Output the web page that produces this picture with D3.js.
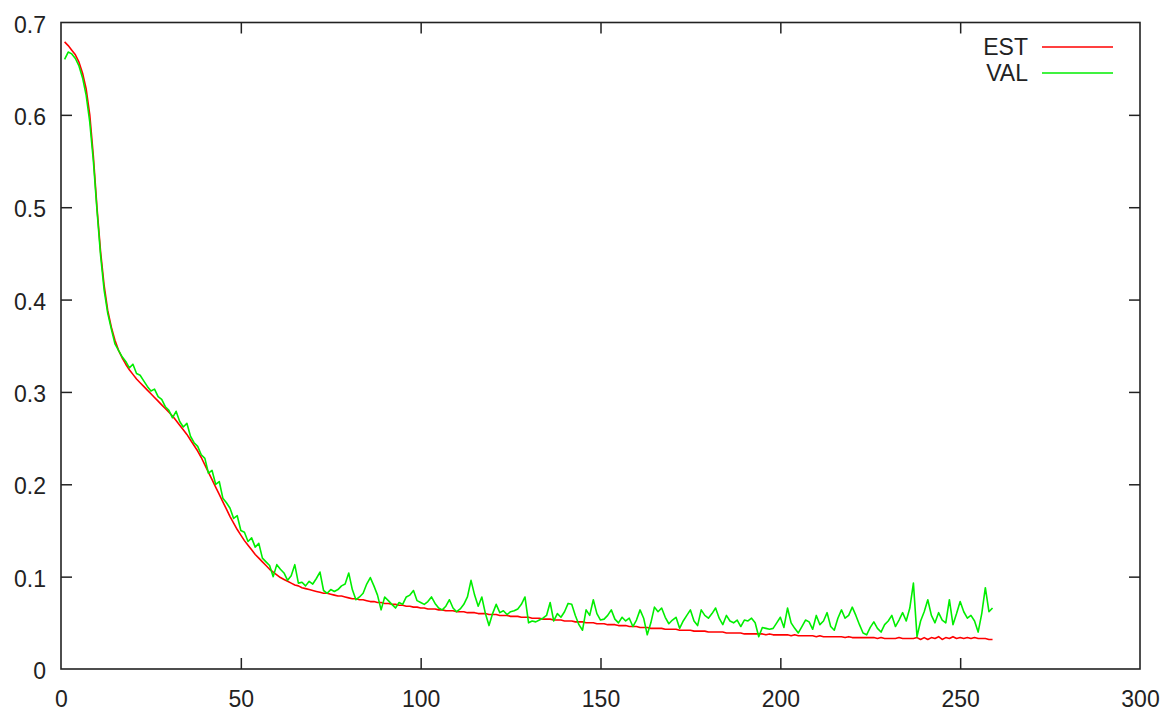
<!DOCTYPE html>
<html>
<head>
<meta charset="utf-8">
<script src="https://cdn.jsdelivr.net/npm/d3@7"></script>
<style>
  body { margin: 0; background: #fff; }
  text { font-family: "Liberation Sans", Arial, sans-serif; }
</style>
</head>
<body>
<div id="chart"></div>
<script>
// EST / VAL error per epoch, epochs start at 1
var est = [
  0.679,0.675,0.670,0.665,0.657,0.645,0.628,0.600,0.555,0.500,
  0.452,0.415,0.388,0.370,0.356,0.345,0.337,0.330,0.324,0.319,
  0.314,0.310,0.306,0.302,0.298,0.294,0.290,0.286,0.282,0.278,
  0.274,0.269,0.264,0.259,0.254,0.248,0.242,0.236,0.229,0.221,
  0.213,0.205,0.197,0.189,0.181,0.173,0.165,0.158,0.151,0.145,
  0.139,0.134,0.129,0.124,0.120,0.116,0.112,0.108,0.105,0.102,
  0.099,0.097,0.095,0.093,0.091,0.090,0.088,0.087,0.086,0.085,
  0.084,0.083,0.082,0.082,0.081,0.080,0.079,0.079,0.078,0.077,
  0.076,0.076,0.075,0.075,0.074,0.073,0.073,0.072,0.072,0.071,
  0.071,0.070,0.070,0.069,0.069,0.068,0.068,0.067,0.067,0.066,
  0.066,0.065,0.065,0.065,0.064,0.064,0.063,0.063,0.063,0.062,
  0.062,0.062,0.061,0.061,0.061,0.060,0.060,0.060,0.059,0.059,
  0.059,0.058,0.058,0.058,0.057,0.057,0.057,0.056,0.056,0.056,
  0.055,0.055,0.055,0.054,0.054,0.054,0.053,0.053,0.053,0.052,
  0.052,0.052,0.051,0.051,0.051,0.050,0.050,0.050,0.049,0.049,
  0.049,0.048,0.048,0.048,0.047,0.047,0.047,0.046,0.046,0.046,
  0.045,0.045,0.045,0.044,0.044,0.044,0.044,0.043,0.043,0.043,
  0.043,0.042,0.042,0.042,0.042,0.041,0.041,0.041,0.041,0.040,
  0.040,0.040,0.040,0.040,0.039,0.039,0.039,0.039,0.039,0.038,
  0.038,0.038,0.038,0.038,0.038,0.037,0.038,0.037,0.037,0.037,
  0.037,0.037,0.036,0.037,0.036,0.036,0.036,0.036,0.036,0.035,
  0.036,0.035,0.035,0.035,0.035,0.035,0.035,0.034,0.035,0.034,
  0.034,0.034,0.034,0.034,0.034,0.034,0.033,0.034,0.033,0.033,
  0.033,0.033,0.034,0.033,0.033,0.033,0.033,0.034,0.032,0.034,
  0.032,0.034,0.033,0.035,0.032,0.034,0.033,0.035,0.033,0.034,
  0.033,0.034,0.033,0.034,0.033,0.033,0.033,0.032,0.032
];
var val = [
  0.660,0.668,0.666,0.661,0.653,0.640,0.621,0.592,0.550,0.497,
  0.448,0.410,0.385,0.368,0.352,0.345,0.338,0.333,0.326,0.330,
  0.320,0.318,0.312,0.306,0.301,0.303,0.295,0.292,0.284,0.280,
  0.272,0.279,0.268,0.262,0.266,0.252,0.245,0.241,0.232,0.228,
  0.212,0.215,0.200,0.203,0.185,0.180,0.174,0.163,0.166,0.150,
  0.148,0.138,0.142,0.132,0.136,0.120,0.116,0.112,0.100,0.113,
  0.108,0.104,0.096,0.101,0.113,0.093,0.094,0.090,0.095,0.092,
  0.098,0.105,0.085,0.082,0.086,0.084,0.086,0.090,0.092,0.104,
  0.086,0.075,0.078,0.082,0.092,0.099,0.090,0.080,0.064,0.078,
  0.074,0.070,0.066,0.072,0.070,0.078,0.080,0.085,0.074,0.072,
  0.070,0.073,0.078,0.071,0.066,0.064,0.068,0.075,0.066,0.062,
  0.065,0.070,0.078,0.096,0.080,0.068,0.078,0.060,0.047,0.060,
  0.070,0.061,0.063,0.059,0.062,0.063,0.065,0.070,0.078,0.050,
  0.052,0.051,0.053,0.055,0.058,0.072,0.052,0.060,0.056,0.062,
  0.071,0.070,0.058,0.048,0.042,0.064,0.058,0.075,0.060,0.053,
  0.054,0.058,0.064,0.054,0.050,0.056,0.052,0.055,0.046,0.053,
  0.064,0.055,0.037,0.050,0.067,0.062,0.066,0.056,0.049,0.053,
  0.056,0.044,0.052,0.058,0.064,0.052,0.047,0.064,0.058,0.055,
  0.060,0.066,0.055,0.048,0.058,0.052,0.050,0.053,0.046,0.053,
  0.052,0.055,0.050,0.035,0.045,0.044,0.043,0.044,0.050,0.056,
  0.045,0.066,0.050,0.044,0.039,0.046,0.053,0.051,0.043,0.058,
  0.048,0.052,0.061,0.046,0.042,0.055,0.064,0.055,0.058,0.067,
  0.058,0.048,0.039,0.037,0.045,0.051,0.044,0.040,0.048,0.052,
  0.058,0.046,0.053,0.061,0.052,0.066,0.093,0.035,0.052,0.062,
  0.075,0.058,0.050,0.061,0.053,0.050,0.075,0.048,0.060,0.073,
  0.062,0.055,0.058,0.052,0.040,0.060,0.088,0.062,0.066
];
var seriesNames = ["EST", "VAL"];
var seriesColors = ["#ff0000", "#00ee00"];
var xTicks = [0, 50, 100, 150, 200, 250, 300];
var yTicks = [0, 0.1, 0.2, 0.3, 0.4, 0.5, 0.6, 0.7];

var W = 1166, H = 713;
var pLeft = 61, pRight = 1140, pTop = 22.5, pBottom = 669;
var tick = 11;

var svg = d3.select("#chart").append("svg")
  .attr("width", W).attr("height", H);

var x = d3.scaleLinear().domain([0, 300]).range([pLeft, pRight]);
var y = d3.scaleLinear().domain([0, 0.7]).range([pBottom, pTop]);

var yFmt = function(d) { return d === 0 ? "0" : d3.format(".1f")(d); };

// axes, ticks pointing inward on all four sides
var gl = svg.append("g").attr("transform", "translate(" + pLeft + ",0)")
  .call(d3.axisLeft(y).tickValues(yTicks).tickFormat(yFmt)
    .tickSizeInner(-tick).tickSizeOuter(0).tickPadding(15));
var gr = svg.append("g").attr("transform", "translate(" + pRight + ",0)")
  .call(d3.axisRight(y).tickValues(yTicks.slice(1, -1)).tickFormat("")
    .tickSizeInner(-tick).tickSizeOuter(0));
var gb = svg.append("g").attr("transform", "translate(0," + pBottom + ")")
  .call(d3.axisBottom(x).tickValues(xTicks).tickFormat(d3.format("d"))
    .tickSizeInner(-tick).tickSizeOuter(0).tickPadding(22));
var gt = svg.append("g").attr("transform", "translate(0," + pTop + ")")
  .call(d3.axisTop(x).tickValues(xTicks.slice(1, -1)).tickFormat("")
    .tickSizeInner(-tick).tickSizeOuter(0));

[gl, gr, gb, gt].forEach(function(g) {
  g.select(".domain").remove();
  g.selectAll("line").attr("stroke", "#222").attr("stroke-width", 1.5);
  g.selectAll("text").attr("fill", "#222")
    .style("font-size", "23px").style("font-family", "'Liberation Sans', Arial, sans-serif");
});
// drop ticks sitting on the frame corners
gl.selectAll(".tick").filter(function(d) { return d === 0 || d === 0.7; }).select("line").remove();
gb.selectAll(".tick").filter(function(d) { return d === 0 || d === 300; }).select("line").remove();
gl.selectAll("text").attr("dy", "0.42em");

// lines
var line = d3.line()
  .x(function(d, i) { return x(i + 1); })
  .y(function(d) { return y(d); });

[est, val].forEach(function(data, k) {
  svg.append("path")
    .datum(data)
    .attr("fill", "none")
    .attr("stroke", seriesColors[k])
    .attr("stroke-width", 1.6)
    .attr("stroke-linejoin", "round")
    .attr("d", line);
});

// frame
svg.append("rect")
  .attr("x", pLeft).attr("y", pTop)
  .attr("width", pRight - pLeft).attr("height", pBottom - pTop)
  .attr("fill", "none").attr("stroke", "#222").attr("stroke-width", 1.6);

// legend
var legend = svg.append("g");
seriesNames.forEach(function(name, k) {
  var ly = 47 + k * 26;
  legend.append("text")
    .attr("x", 1028).attr("y", ly)
    .attr("dy", "0.36em")
    .attr("text-anchor", "end")
    .attr("fill", "#222")
    .style("font-size", "23px")
    .text(name);
  legend.append("line")
    .attr("x1", 1042).attr("x2", 1113)
    .attr("y1", ly).attr("y2", ly)
    .attr("stroke", seriesColors[k])
    .attr("stroke-width", 1.6);
});
</script>
</body>
</html>
